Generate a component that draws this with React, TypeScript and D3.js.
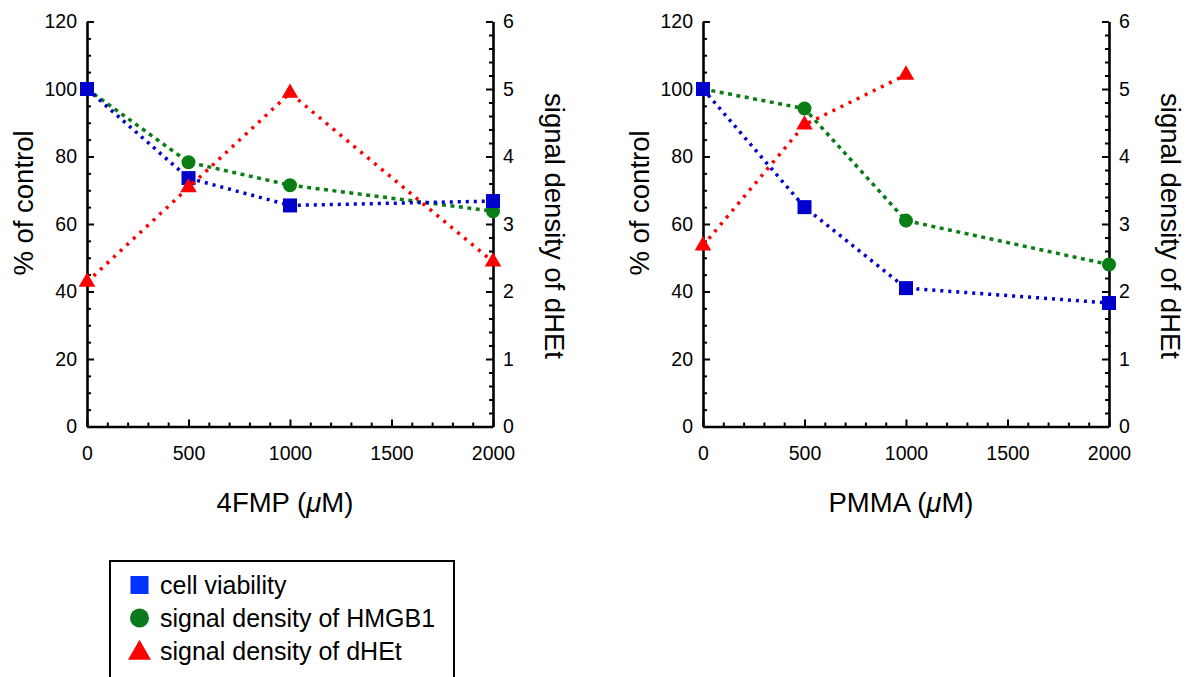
import React, { useEffect, useRef } from 'react';
import * as d3 from 'd3';

// doses in µM
const doses = [0, 500, 1000, 2000];
const dosesPmmaDhet = [0, 500, 1000];

// 4FMP panel
const viability4FMP = [100, 73.6, 65.5, 66.8];
const hmgb4FMP = [100, 78.3, 71.5, 63.8];
const dhet4FMP = [2.14, 3.54, 4.94, 2.44];

// PMMA panel
const viabilityPMMA = [100, 65.0, 41.0, 36.6];
const hmgbPMMA = [100, 94.2, 61.0, 48.0];
const dhetPMMA = [2.68, 4.47, 5.21];

const leftTicks = [0, 20, 40, 60, 80, 100, 120];
const rightTicks = [0, 1, 2, 3, 4, 5, 6];
const xTicks = [0, 500, 1000, 1500, 2000];

const legendLabels = ['cell viability', 'signal density of HMGB1', 'signal density of dHEt'];

const FONT = '"Liberation Sans", Arial, Helvetica, sans-serif';
const BLUE = '#0000cc';
const GREEN = '#0a7d14';
const RED = '#ff0000';

export default function App() {
  const ref = useRef<SVGSVGElement | null>(null);

  useEffect(() => {
    const svg = d3.select(ref.current);
    svg.selectAll('*').remove();

    const top = 21.5, bottom = 426.5, plotW = 406;
    const fmt = (d: any) => String(d);

    const panels = [
      {
        x0: 87, title: '4FMP',
        series: [
          { key: 'hmgb', xs: doses, ys: hmgb4FMP, axis: 'L', color: GREEN, shape: d3.symbolCircle, size: 154, dash: '4 4.5' },
          { key: 'via', xs: doses, ys: viability4FMP, axis: 'L', color: BLUE, shape: d3.symbolSquare, size: 196, dash: '3 5' },
          { key: 'dhet', xs: doses, ys: dhet4FMP, axis: 'R', color: RED, shape: d3.symbolTriangle, size: 120, dash: '3 6' },
        ],
      },
      {
        x0: 703, title: 'PMMA',
        series: [
          { key: 'hmgb', xs: doses, ys: hmgbPMMA, axis: 'L', color: GREEN, shape: d3.symbolCircle, size: 154, dash: '4 4.5' },
          { key: 'via', xs: doses, ys: viabilityPMMA, axis: 'L', color: BLUE, shape: d3.symbolSquare, size: 196, dash: '3 5' },
          { key: 'dhet', xs: dosesPmmaDhet, ys: dhetPMMA, axis: 'R', color: RED, shape: d3.symbolTriangle, size: 120, dash: '3 6' },
        ],
      },
    ];

    const styleAxis = (g: any, minor: boolean) => {
      g.select('.domain').attr('stroke', '#000').attr('stroke-width', 2.6);
      g.selectAll('.tick line').attr('stroke', '#000').attr('stroke-width', 2);
      g.selectAll('.tick text').attr('fill', '#000').style('font-size', '19.5px').style('font-family', FONT);
      if (minor) g.select('.domain').remove();
    };

    panels.forEach((p) => {
      const x = d3.scaleLinear().domain([0, 2000]).range([p.x0, p.x0 + plotW]);
      const yL = d3.scaleLinear().domain([0, 120]).range([bottom, top]);
      const yR = d3.scaleLinear().domain([0, 6]).range([bottom, top]);
      const g = svg.append('g');

      // minor ticks
      g.append('g').attr('transform', `translate(${p.x0},0)`)
        .call(d3.axisLeft(yL).tickValues(d3.range(0, 121, 5).filter((v) => v % 20 !== 0)).tickSize(-4).tickFormat(() => ''))
        .call((s: any) => styleAxis(s, true));
      g.append('g').attr('transform', `translate(${p.x0 + plotW},0)`)
        .call(d3.axisRight(yR).tickValues(d3.range(0, 30).map((i) => i * 0.2).filter((v) => Math.abs(v - Math.round(v)) > 0.01)).tickSize(-4).tickFormat(() => ''))
        .call((s: any) => styleAxis(s, true));
      g.append('g').attr('transform', `translate(0,${bottom})`)
        .call(d3.axisBottom(x).tickValues(d3.range(0, 2001, 100).filter((v) => v % 500 !== 0)).tickSize(-4).tickFormat(() => ''))
        .call((s: any) => styleAxis(s, true));

      // major axes
      g.append('g').attr('transform', `translate(${p.x0},0)`)
        .call(d3.axisLeft(yL).tickValues(leftTicks).tickFormat(fmt).tickSizeInner(-7).tickSizeOuter(0).tickPadding(10))
        .call((s: any) => styleAxis(s, false));
      g.append('g').attr('transform', `translate(${p.x0 + plotW},0)`)
        .call(d3.axisRight(yR).tickValues(rightTicks).tickFormat(fmt).tickSizeInner(-7).tickSizeOuter(0).tickPadding(10))
        .call((s: any) => styleAxis(s, false));
      g.append('g').attr('transform', `translate(0,${bottom})`)
        .call(d3.axisBottom(x).tickValues(xTicks).tickFormat(fmt).tickSizeInner(-7).tickSizeOuter(0).tickPadding(20))
        .call((s: any) => styleAxis(s, false));

      // axis titles
      g.append('text')
        .attr('transform', `translate(${p.x0 - 54},203) rotate(-90)`)
        .attr('text-anchor', 'middle')
        .style('font-size', '27.5px').style('font-family', FONT)
        .text('% of control');
      g.append('text')
        .attr('transform', `translate(${p.x0 + plotW + 52},226) rotate(90)`)
        .attr('text-anchor', 'middle')
        .style('font-size', '27.5px').style('font-family', FONT)
        .text('signal density of dHEt');
      const xt = g.append('text')
        .attr('x', p.x0 + plotW / 2 - 5).attr('y', 512)
        .attr('text-anchor', 'middle')
        .style('font-size', '27.5px').style('font-family', FONT);
      xt.append('tspan').text(`${p.title} (`);
      xt.append('tspan').style('font-style', 'italic').text('\u03bc');
      xt.append('tspan').text('M)');

      // series
      p.series.forEach((s) => {
        const y = s.axis === 'L' ? yL : yR;
        const pts = s.xs.map((d, i) => [x(d), y(s.ys[i])] as [number, number]);
        g.append('path')
          .attr('d', d3.line()(pts))
          .attr('fill', 'none')
          .attr('stroke', s.color)
          .attr('stroke-width', 3.5)
          .attr('stroke-dasharray', s.dash);
        g.selectAll(null).data(pts).enter().append('path')
          .attr('transform', (d) => `translate(${d[0]},${d[1]})`)
          .attr('d', d3.symbol().type(s.shape).size(s.size)())
          .attr('fill', s.color);
      });
    });

    // legend
    const lg = svg.append('g');
    lg.append('rect').attr('x', 110).attr('y', 561).attr('width', 344).attr('height', 140)
      .attr('fill', 'none').attr('stroke', '#000').attr('stroke-width', 2);
    const legendShapes = [
      { shape: d3.symbolSquare, size: 324, color: '#0033ff' },
      { shape: d3.symbolCircle, size: 283, color: '#0b7a1e' },
      { shape: d3.symbolTriangle, size: 229, color: RED },
    ];
    legendLabels.forEach((label, i) => {
      const cy = 585 + i * 33;
      lg.append('path')
        .attr('transform', `translate(139.5,${cy + (i === 2 ? 2 : 0)})`)
        .attr('d', d3.symbol().type(legendShapes[i].shape).size(legendShapes[i].size)())
        .attr('fill', legendShapes[i].color);
      lg.append('text').attr('x', 160).attr('y', cy + 8.5)
        .style('font-size', '25px').style('font-family', FONT)
        .text(label);
    });
  }, []);

  return (
    <div style={{ position: 'absolute', left: 0, top: 0 }}>
      <svg ref={ref} width={1186} height={677} style={{ display: 'block', background: '#fff' }} />
    </div>
  );
}
